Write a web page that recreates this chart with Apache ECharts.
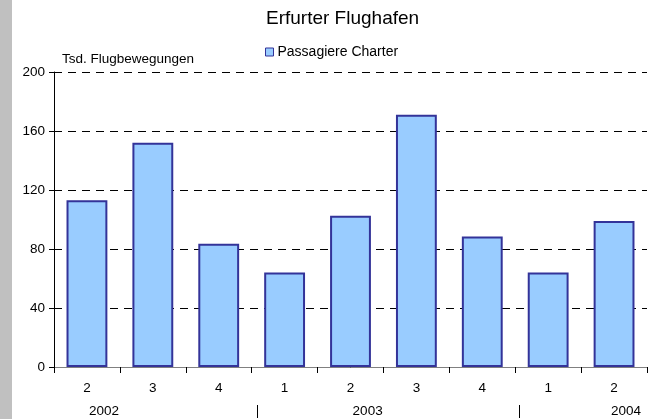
<!DOCTYPE html>
<html>
<head>
<meta charset="utf-8">
<script src="https://cdn.jsdelivr.net/npm/echarts@6/dist/echarts.min.js"></script>
<style>
html,body{margin:0;padding:0;background:#fff;}
#c{width:663px;height:419px;}
</style>
</head>
<body>
<div id="c"></div>
<script>
const titleText = 'Erfurter Flughafen';
const axisName = 'Tsd. Flugbewegungen';
const seriesName = 'Passagiere Charter';
const categories = ['2', '3', '4', '1', '2', '3', '4', '1', '2'];
const charterValues = [113, 152, 83.5, 64, 102.5, 171, 88.5, 64, 99];
const yMin = 0, yMax = 200, yStep = 40;
const yearLabels = ['2002', '2003', '2004'];
const yearCenters = [0.76, 4.76, 8.68];     // in category units
const yearSeparators = [3.08, 7.05];        // in category units

const FONT = "'Liberation Sans', Arial, sans-serif";
const chart = echarts.init(document.getElementById('c'), null, {renderer: 'canvas'});

chart.setOption({
  animation: false,
  backgroundColor: '#ffffff',
  textStyle: {fontFamily: FONT},
  title: {
    text: titleText,
    left: 266,
    top: 9,
    padding: 0,
    textStyle: {fontFamily: FONT, fontSize: 19, fontWeight: 'normal', color: '#000'}
  },
  legend: {
    data: [seriesName],
    left: 265,
    top: 45,
    padding: 0,
    itemWidth: 8,
    itemHeight: 8,
    icon: 'rect',
    itemStyle: {borderWidth: 1, borderColor: '#333399', color: '#99CCFF'},
    textStyle: {fontFamily: FONT, fontSize: 14, color: '#000', padding: [0, 0, 0, -1]}
  },
  grid: {left: 54, right: 16, top: 72, bottom: 52, containLabel: false},
  xAxis: [{
    type: 'category',
    data: categories,
    axisLine: {show: true, lineStyle: {color: '#808080', width: 1}},
    axisTick: {show: true, length: 6, inside: false, lineStyle: {color: '#000'}},
    axisLabel: {margin: 14, fontFamily: FONT, fontSize: 13.5, color: '#000'},
    splitLine: {show: false}
  }, {
    type: 'value',
    min: 0,
    max: categories.length,
    show: false,
    gridIndex: 0
  }],
  yAxis: {
    type: 'value',
    min: yMin,
    max: yMax,
    interval: yStep,
    axisLine: {show: true, lineStyle: {color: '#000', width: 1}},
    axisTick: {show: true, length: 5, inside: false, lineStyle: {color: '#000'}},
    axisLabel: {margin: 9, fontFamily: FONT, fontSize: 13.5, color: '#000'},
    splitLine: {show: true, lineStyle: {color: '#000', width: 1, type: [8, 6]}}
  },
  series: [{
    name: seriesName,
    type: 'bar',
    xAxisIndex: 0,
    data: charterValues,
    barWidth: '62%',
    itemStyle: {color: '#99CCFF', borderColor: '#333399', borderWidth: 2}
  }],
  graphic: []
});

// extra texts: gray stripe, axis name, year labels and separators
const gfx = [
  {type: 'rect', left: 0, top: 0, shape: {width: 12, height: 419}, style: {fill: '#C0C0C0'}, silent: true},
  {type: 'text', left: 62, top: 52, style: {text: axisName, font: '13.5px ' + FONT, fill: '#000'}}
];
yearLabels.forEach((y, i) => {
  const px = chart.convertToPixel({xAxisIndex: 1}, yearCenters[i]);
  gfx.push({type: 'text', x: px, y: 411, style: {text: y, font: '13.5px ' + FONT, fill: '#000', align: 'center', verticalAlign: 'middle'}});
});
yearSeparators.forEach(v => {
  const px = Math.round(chart.convertToPixel({xAxisIndex: 1}, v)) + 0.5;
  gfx.push({type: 'line', shape: {x1: px, y1: 405, x2: px, y2: 418}, style: {stroke: '#000', lineWidth: 1}});
});
chart.setOption({graphic: gfx});
</script>
</body>
</html>
